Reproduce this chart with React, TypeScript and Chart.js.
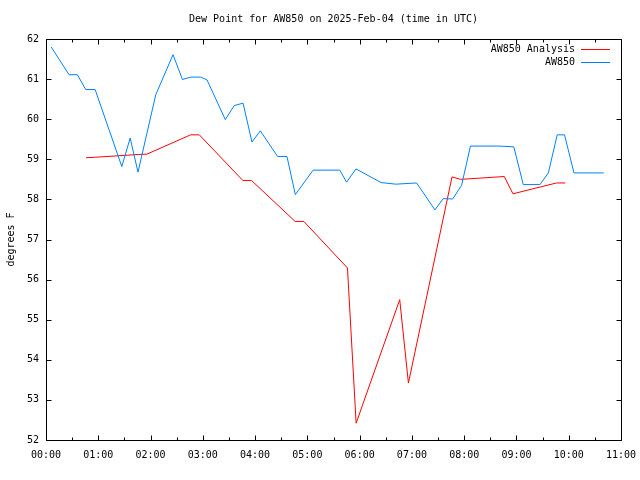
import React, { useEffect, useRef } from "react";
import { Chart, registerables } from "chart.js";

Chart.register(...registerables);

const TITLE = "Dew Point for AW850 on 2025-Feb-04 (time in UTC)";
const Y_LABEL = "degrees F";
const SERIES_NAMES = ["AW850 Analysis", "AW850"];
const SERIES_COLORS = ["#ff0000", "#0080ff"];

// time in decimal hours UTC
const analysisTimes = [0.767, 0.933, 1.767, 1.933, 2.767, 2.933, 3.767, 3.933, 4.767, 4.933, 5.767, 5.933, 6.767, 6.933, 7.767, 7.933, 8.767, 8.933, 9.767, 9.933];
const analysisValues = [59.04, 59.05, 59.12, 59.13, 59.61, 59.61, 58.47, 58.47, 57.45, 57.45, 56.29, 52.42, 55.5, 53.42, 58.56, 58.5, 58.57, 58.14, 58.41, 58.41];

const obsTimes = [0.1, 0.44, 0.6, 0.76, 0.94, 1.45, 1.61, 1.76, 2.1, 2.43, 2.61, 2.77, 2.96, 3.08, 3.43, 3.6, 3.77, 3.94, 4.1, 4.43, 4.61, 4.77, 5.11, 5.62, 5.75, 5.93, 6.41, 6.69, 7.09, 7.44, 7.6, 7.78, 7.95, 8.12, 8.67, 8.95, 9.13, 9.45, 9.61, 9.78, 9.92, 10.1, 10.67];
const obsValues = [61.8, 61.11, 61.11, 60.74, 60.74, 58.82, 59.53, 58.68, 60.61, 61.61, 60.99, 61.05, 61.05, 60.98, 59.99, 60.34, 60.4, 59.43, 59.71, 59.07, 59.07, 58.12, 58.73, 58.73, 58.43, 58.76, 58.42, 58.38, 58.41, 57.74, 58.02, 58.01, 58.35, 59.33, 59.33, 59.31, 58.37, 58.37, 58.66, 59.61, 59.61, 58.66, 58.66];

const X_MIN = 0;
const X_MAX = 11;
const Y_MIN = 52;
const Y_MAX = 62;

const FONT = "10px 'DejaVu Sans Mono', monospace";

const fmtHour = (v: number) => String(Math.round(v)).padStart(2, "0") + ":00";

const decorPlugin = {
  id: "gnuplotDecor",
  afterDraw(chart: any) {
    const ctx = chart.ctx as CanvasRenderingContext2D;
    const { left, right, top, bottom } = chart.chartArea;
    const xs = chart.scales.x;
    const ys = chart.scales.y;
    const L = Math.round(left) + 0.5;
    const R = Math.round(right) + 0.5;
    const T = Math.round(top) + 0.5;
    const B = Math.round(bottom) + 0.5;
    ctx.save();
    ctx.strokeStyle = "#000";
    ctx.lineWidth = 1;
    ctx.beginPath();
    ctx.rect(L, T, R - L, B - T);
    for (let h = X_MIN; h <= X_MAX; h += 0.5) {
      const px = Math.round(xs.getPixelForValue(h)) + 0.5;
      const len = Number.isInteger(h) ? 5 : 3;
      ctx.moveTo(px, B);
      ctx.lineTo(px, B - len);
      ctx.moveTo(px, T);
      ctx.lineTo(px, T + len);
    }
    for (let v = Y_MIN; v <= Y_MAX; v += 1) {
      const py = Math.round(ys.getPixelForValue(v)) + 0.5;
      ctx.moveTo(L, py);
      ctx.lineTo(L + 5, py);
      ctx.moveTo(R, py);
      ctx.lineTo(R - 5, py);
    }
    ctx.stroke();

    ctx.fillStyle = "#000";
    ctx.font = FONT;
    ctx.textAlign = "center";
    ctx.textBaseline = "middle";
    ctx.fillText(TITLE, (left + right) / 2, 19);
    ctx.save();
    ctx.translate(11, (top + bottom) / 2);
    ctx.rotate(-Math.PI / 2);
    ctx.fillText(Y_LABEL, 0, 0);
    ctx.restore();
    ctx.textAlign = "right";
    SERIES_NAMES.forEach((name, i) => {
      const y = 49 + i * 13;
      ctx.fillStyle = "#000";
      ctx.fillText(name, 575, y);
      ctx.strokeStyle = SERIES_COLORS[i];
      ctx.beginPath();
      ctx.moveTo(581, y + 0.5);
      ctx.lineTo(610, y + 0.5);
      ctx.stroke();
    });
    ctx.restore();
  },
};

export default function App() {
  const ref = useRef<HTMLCanvasElement | null>(null);
  useEffect(() => {
    if (!ref.current) return;
    const chart = new Chart(ref.current, {
      type: "line",
      data: {
        datasets: [
          {
            label: SERIES_NAMES[0],
            data: analysisTimes.map((t, i) => ({ x: t, y: analysisValues[i] })),
            borderColor: SERIES_COLORS[0],
            backgroundColor: SERIES_COLORS[0],
            borderWidth: 1,
            pointRadius: 0,
            tension: 0,
            fill: false,
            order: 2,
          },
          {
            label: SERIES_NAMES[1],
            data: obsTimes.map((t, i) => ({ x: t, y: obsValues[i] })),
            borderColor: SERIES_COLORS[1],
            backgroundColor: SERIES_COLORS[1],
            borderWidth: 1,
            pointRadius: 0,
            tension: 0,
            fill: false,
            order: 1,
          },
        ],
      },
      options: {
        animation: false,
        responsive: false,
        devicePixelRatio: 1,
        layout: { padding: { top: 39, right: 19, left: 0, bottom: 0 } },
        plugins: {
          legend: { display: false },
          title: { display: false },
          tooltip: { enabled: false },
        },
        scales: {
          x: {
            type: "linear",
            min: X_MIN,
            max: X_MAX,
            afterFit: (s: any) => {
              s.height = 40;
              s.paddingLeft = 0;
              s.paddingRight = 0;
            },
            grid: { display: false, drawTicks: false },
            border: { display: false },
            ticks: {
              stepSize: 1,
              autoSkip: false,
              maxRotation: 0,
              padding: 9,
              color: "#000",
              font: { family: "'DejaVu Sans Mono', monospace", size: 10 },
              callback: (v: any) => fmtHour(Number(v)),
            },
          },
          y: {
            type: "linear",
            min: Y_MIN,
            max: Y_MAX,
            afterFit: (s: any) => {
              s.width = 46;
              s.paddingTop = 0;
              s.paddingBottom = 0;
            },
            grid: { display: false, drawTicks: false },
            border: { display: false },
            ticks: {
              stepSize: 1,
              autoSkip: false,
              padding: 7,
              color: "#000",
              font: { family: "'DejaVu Sans Mono', monospace", size: 10 },
            },
          },
        },
      },
      plugins: [decorPlugin],
    } as any);
    return () => chart.destroy();
  }, []);
  return (
    <div style={{ position: "fixed", left: 0, top: 0, width: 640, height: 480, background: "#fff" }}>
      <canvas ref={ref} width={640} height={480} style={{ display: "block" }} />
    </div>
  );
}
